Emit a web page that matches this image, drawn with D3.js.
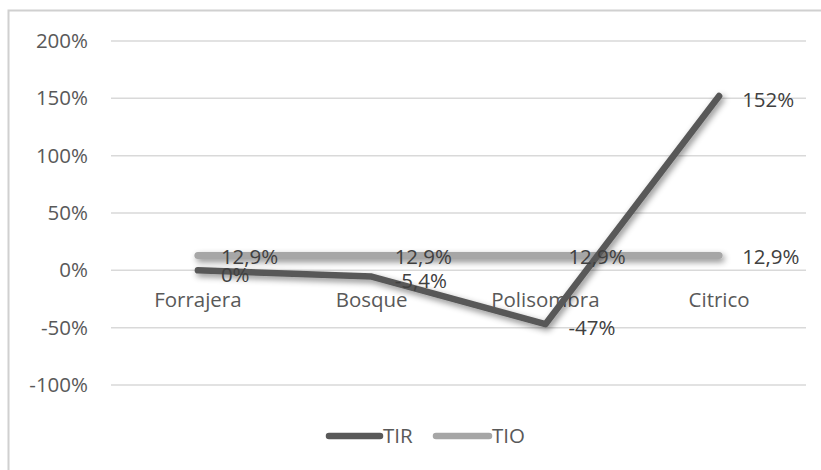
<!DOCTYPE html>
<html><head><meta charset="utf-8">
<script src="https://cdn.jsdelivr.net/npm/d3@7"></script>
<style>
body{margin:0;background:#fff;}
text{font-family:"Open Sans",sans-serif;}
</style></head>
<body><svg id="c" width="821" height="470"></svg>
<script>
const categories = ["Forrajera","Bosque","Polisombra","Citrico"];
const tir = [0, -5.4, -47, 152];
const tio = [12.9, 12.9, 12.9, 12.9];
const tirLabels = ["0%","-5,4%","-47%","152%"];
const tioLabels = ["12,9%","12,9%","12,9%","12,9%"];
const yTicks = [-100,-50,0,50,100,150,200];

const svg = d3.select("#c");
const defs = svg.append("defs");
const f = defs.append("filter").attr("id","sh").attr("filterUnits","userSpaceOnUse")
  .attr("x",0).attr("y",0).attr("width",821).attr("height",470);
f.append("feDropShadow").attr("dx",2).attr("dy",3).attr("stdDeviation",3).attr("flood-color","#000").attr("flood-opacity",0.45);

// border
svg.append("path").attr("d","M8.5,470 L8.5,10.5 L821,10.5").attr("fill","none").attr("stroke","#d0d0d0").attr("stroke-width",2);

const x = d3.scaleBand().domain(categories).range([111,806]);
const y = d3.scaleLinear().domain([-100,200]).range([385,41]);

// grid
svg.append("g").selectAll("line").data(yTicks).join("line")
  .attr("x1",111).attr("x2",806).attr("y1",d=>y(d)).attr("y2",d=>y(d))
  .attr("stroke","#d9d9d9").attr("stroke-width",1.5);

// y axis labels
const yAxis = d3.axisLeft(y).tickValues(yTicks).tickFormat(d=>d+"%").tickSize(0).tickPadding(0);
const ga = svg.append("g").attr("transform","translate(88,0)").call(yAxis);
ga.select(".domain").remove();
ga.selectAll("text").attr("font-size",20.5).attr("fill","#595959").attr("font-family","Open Sans");

// category labels
const xAxis = d3.axisBottom(x).tickSize(0).tickPadding(0);
const gx = svg.append("g").attr("transform","translate(0,292)").call(xAxis);
gx.select(".domain").remove();
gx.selectAll("text").attr("font-size",20.5).attr("fill","#595959").attr("font-family","Open Sans");

const cx = d=>x(d)+x.bandwidth()/2;
const line = d3.line().x((d,i)=>cx(categories[i])).y(d=>y(d));

svg.append("path").datum(tio).attr("d",line).attr("fill","none").attr("stroke","#a6a6a6")
  .attr("stroke-width",7).attr("stroke-linecap","round").attr("stroke-linejoin","round").attr("filter","url(#sh)");
svg.append("path").datum(tir).attr("d",line).attr("fill","none").attr("stroke","#595959")
  .attr("stroke-width",6.5).attr("stroke-linecap","round").attr("stroke-linejoin","round").attr("filter","url(#sh)");

// labels
svg.append("g").selectAll("text").data(tio).join("text")
  .attr("x",(d,i)=>cx(categories[i])+23).attr("y",d=>y(d)+1).attr("dy","0.35em")
  .attr("font-size",20.5).attr("fill","#404040").text((d,i)=>tioLabels[i]);
svg.append("g").selectAll("text").data(tir).join("text")
  .attr("x",(d,i)=>cx(categories[i])+23).attr("y",d=>y(d)+4).attr("dy","0.35em")
  .attr("font-size",20.5).attr("fill","#404040").text((d,i)=>tirLabels[i]);

// legend
const lg = svg.append("g");
lg.append("line").attr("x1",329).attr("x2",380).attr("y1",436).attr("y2",436).attr("stroke","#595959").attr("stroke-width",6.5).attr("stroke-linecap","round");
lg.append("text").attr("x",383).attr("y",436).attr("dy","0.35em").attr("font-size",20.5).attr("fill","#595959").text("TIR");
lg.append("line").attr("x1",436).attr("x2",489).attr("y1",436).attr("y2",436).attr("stroke","#a6a6a6").attr("stroke-width",6.5).attr("stroke-linecap","round");
lg.append("text").attr("x",492).attr("y",436).attr("dy","0.35em").attr("font-size",20.5).attr("fill","#595959").text("TIO");
</script></body></html>
